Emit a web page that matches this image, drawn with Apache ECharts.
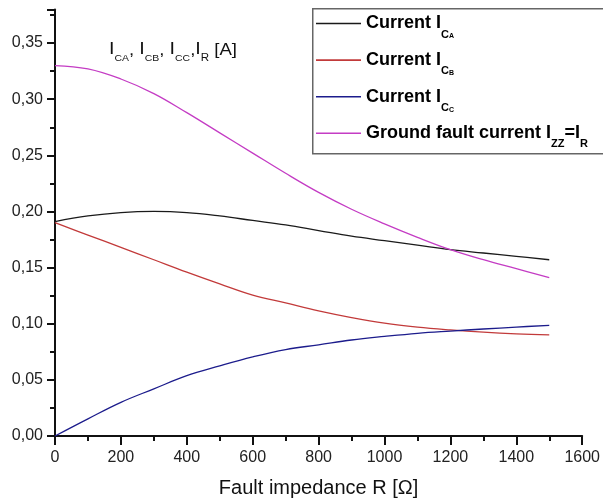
<!DOCTYPE html>
<html>
<head>
<meta charset="utf-8">
<script src="https://cdn.jsdelivr.net/npm/echarts@6/dist/echarts.min.js"></script>
<style>
html,body{margin:0;padding:0;background:#fff;}
#chart{width:603px;height:503px;}
</style>
</head>
<body>
<div id="chart"></div>
<script>
// Fault impedance R [Ω]
const resistance = [0,100,200,300,400,500,600,700,800,900,1000,1100,1200,1300,1400,1500];
// Current I_CA
const currentCA = [0.191,0.196,0.199,0.200,0.199,0.196,0.192,0.188,0.183,0.178,0.174,0.170,0.166,0.163,0.160,0.157];
// Current I_CB
const currentCB = [0.190,0.179,0.168,0.157,0.146,0.1355,0.1255,0.1185,0.1115,0.1055,0.1005,0.097,0.0945,0.0925,0.091,0.090];
// Current I_CC
const currentCC = [0,0.0153,0.030,0.042,0.0537,0.0625,0.0705,0.077,0.0812,0.0855,0.0887,0.0915,0.0935,0.0953,0.097,0.0986];
// Ground fault current I_ZZ = I_R
const groundFault = [0.330,0.327,0.318,0.305,0.288,0.270,0.252,0.234,0.217,0.202,0.189,0.177,0.166,0.157,0.149,0.141];

const seriesNames = ['Current ICA','Current ICB','Current ICC','Ground fault current IZZ=IR'];
const legendLabels = {
  'Current ICA': '{m|Current I}{s|C}{ss|A}',
  'Current ICB': '{m|Current I}{s|C}{ss|B}',
  'Current ICC': '{m|Current I}{s|C}{ss|C}',
  'Ground fault current IZZ=IR': '{m|Ground fault current I}{s|ZZ}{m|=I}{s|R}'
};
const colors = ['#1a1a1a','#c23a3a','#1c1c8c','#c43cc4'];
const seriesData = [currentCA, currentCB, currentCC, groundFault];

const FONT = '"Liberation Sans", Arial, sans-serif';
const chart = echarts.init(document.getElementById('chart'), null, {renderer:'canvas'});

const option = {
  backgroundColor: '#fff',
  animation: false,
  grid: { left: 55, right: 19, top: 9.4, bottom: 66.5, containLabel: false },
  xAxis: {
    type: 'value', min: 0, max: 1600, interval: 200,
    name: 'Fault impedance R [Ω]', nameLocation: 'middle', nameGap: 42,
    nameTextStyle: { fontSize: 20, color: '#111', fontFamily: FONT },
    axisLine: { show: true, lineStyle: { color: '#111', width: 2 } },
    axisTick: { show: true, length: 9, lineStyle: { color: '#111', width: 2 } },
    minorTick: { show: true, splitNumber: 2, length: 5, lineStyle: { color: '#111', width: 2 } },
    splitLine: { show: false },
    axisLabel: { fontSize: 16, color: '#222', margin: 14, fontFamily: FONT, formatter: v => String(v) }
  },
  yAxis: {
    type: 'value', min: 0, max: 0.38, interval: 0.05,
    axisLine: { show: true, lineStyle: { color: '#111', width: 2 } },
    axisTick: { show: true, length: 8, lineStyle: { color: '#111', width: 2 } },
    minorTick: { show: true, splitNumber: 2, length: 5, lineStyle: { color: '#111', width: 2 } },
    splitLine: { show: false },
    axisLabel: {
      fontSize: 16, color: '#222', margin: 12, fontFamily: FONT, showMaxLabel: false,
      formatter: v => v.toFixed(2).replace('.', ',')
    }
  },
  legend: {
    orient: 'vertical', left: 316, top: 14.5, padding: 0,
    itemWidth: 45, itemHeight: 1.6, itemGap: 11.1, selectedMode: false,
    icon: 'rect',
    data: seriesNames,
    formatter: name => legendLabels[name],
    textStyle: {
      color: '#000', fontFamily: FONT,
      rich: {
        m: { fontSize: 18, fontWeight: 'bold', lineHeight: 33, verticalAlign: 'middle', fontFamily: FONT, color: '#000' },
        s: { fontSize: 11, fontWeight: 'bold', verticalAlign: 'bottom', fontFamily: FONT, color: '#000' },
        ss: { fontSize: 7, fontWeight: 'bold', verticalAlign: 'bottom', fontFamily: FONT, color: '#000' }
      }
    }
  },
  graphic: [
    {
      type: 'rect', left: 312, top: 8, z: 1,
      shape: { width: 320, height: 145 },
      style: { fill: 'transparent', stroke: '#666', lineWidth: 1.5 }
    },
    {
      type: 'text', x: 109, y: 41, z: 10, scaleX: 1.16,
      style: {
        text: '{I|I}{sb|CA}{n|, }{I|I}{sb|CB}{n|, }{I|I}{sb|CC}{n|,}{I|I}{sr|R}{n| [A]}',
        verticalAlign: 'top', align: 'left', fontFamily: FONT, fill: '#111',
        rich: {
          I: { fontSize: 17, padding: [0,0,5,0], verticalAlign: 'bottom', fontFamily: FONT, color: '#111' },
          sb: { fontSize: 9, verticalAlign: 'bottom', fontFamily: FONT, color: '#111' },
          sr: { fontSize: 10, verticalAlign: 'bottom', fontFamily: FONT, color: '#111' },
          n: { fontSize: 16, padding: [0,0,4.5,0], verticalAlign: 'bottom', fontFamily: FONT, color: '#111' }
        }
      }
    }
  ],
  series: seriesNames.map((name, i) => ({
    name: name,
    type: 'line',
    smooth: 0.4,
    symbol: 'none',
    color: colors[i],
    lineStyle: { color: colors[i], width: 1.3 },
    data: resistance.map((r, k) => [r, seriesData[i][k]])
  }))
};
chart.setOption(option);
</script>
</body>
</html>
